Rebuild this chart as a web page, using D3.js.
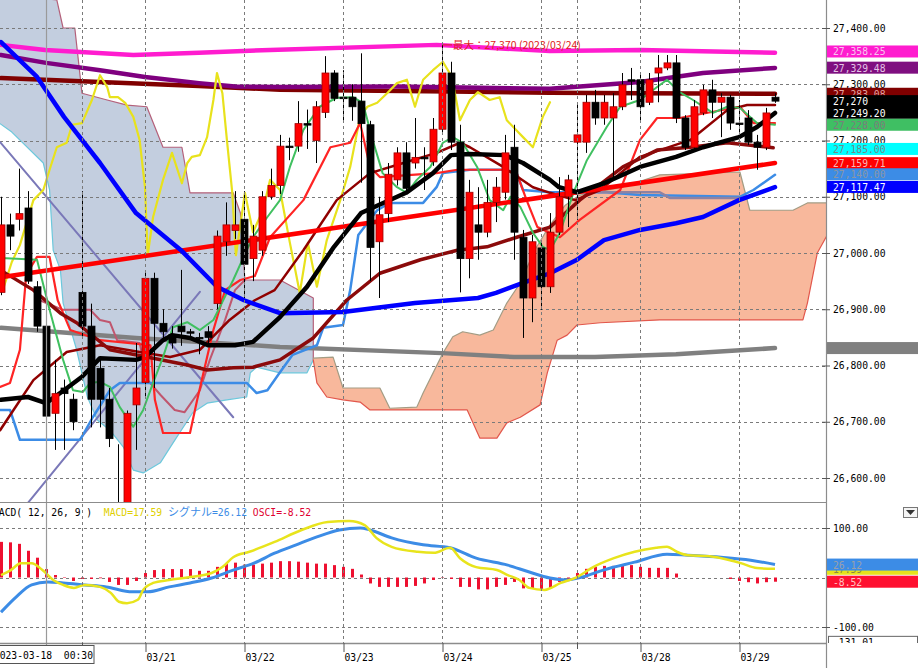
<!DOCTYPE html>
<html lang="ja">
<head>
<meta charset="utf-8">
<title>225 2h chart with MACD</title>
<script src="https://cdn.jsdelivr.net/npm/d3@7"></script>
<style>
  body { margin: 0; background: #fff; }
  svg { display: block; }
  text { white-space: pre; }
</style>
</head>
<body>
<div id="chart"></div>
<script>
// ---- candles, index 0 = first visible bar (2h bars) ----
var open  = [26930,27050,27060,27080,26940,26870,26715,26760,26740,26930,26870,26795,26740,26550,26520,26730,26770,26955,26875,26855,26870,26860,26850,26860,26910,27020,27040,27060,26990,27005,27100,27120,27190,27190,27230,27200,27250,27320,27277,27277,27270,27228,27020,27070,27130,27178,27160,27170,27162,27220,27320,27197,26990,27050,27037,27090,27108,27188,27028,26920,27009,26940,27037,27100,27197,27197,27268,27240,27240,27260,27308,27308,27268,27320,27329,27338,27240,27188,27249,27290,27268,27277,27231,27240,27197,27188,27277];
var high  = [27100,27070,27150,27110,26950,26905,26810,26775,26750,27110,26910,26810,26760,26660,26720,26840,26965,26965,26900,26870,26970,26865,26858,26870,27040,27090,27110,27110,27050,27110,27150,27210,27205,27270,27255,27270,27350,27325,27325,27300,27355,27235,27100,27160,27188,27197,27240,27188,27240,27370,27340,27228,27130,27117,27130,27135,27210,27228,27041,27032,27023,27071,27135,27139,27268,27281,27290,27281,27284,27320,27329,27320,27320,27352,27352,27352,27245,27272,27299,27308,27284,27281,27272,27254,27210,27258,27284];
var low   = [26925,27005,27040,26945,26860,26680,26650,26650,26685,26850,26690,26690,26655,26500,26500,26650,26745,26760,26845,26830,26835,26850,26820,26835,26900,26995,27025,26920,26950,26995,27095,27105,27165,27180,27185,27160,27240,27270,27235,27235,27125,26950,26920,27055,27120,27105,27150,27112,27155,27210,27183,26930,26955,26988,27028,27055,27095,26988,26849,26877,26899,26929,27032,27046,27059,27178,27228,27228,27135,27254,27272,27236,27263,27268,27325,27231,27183,27183,27245,27240,27206,27219,27210,27192,27148,27183,27267];
var close = [27050,27030,27070,26950,26870,26710,26750,26750,26700,26870,26740,26740,26670,26520,26715,26760,26955,26875,26860,26840,26860,26858,26848,26850,27030,27050,27050,26980,27030,27100,27120,27190,27188,27230,27228,27260,27320,27275,27275,27260,27230,27010,27068,27140,27178,27115,27170,27168,27220,27320,27197,26990,27108,27037,27090,27117,27178,27037,26920,27020,26940,27037,27100,27130,27210,27268,27240,27268,27260,27299,27306,27260,27308,27329,27338,27240,27188,27260,27290,27268,27277,27231,27229,27197,27188,27249,27270];

// ---- overlay lines, [bar index, price] ----
var magentaLine = [[0,27370],[3.2,27364],[4.9,27361],[14.7,27352],[22,27356],[29.9,27361],[48.4,27370],[61,27359],[71,27361],[86,27356]];
var purpleLine  = [[0,27352],[5,27338],[11,27325],[16,27313],[22,27302],[26,27296],[31,27295],[44,27296],[61,27292],[71,27304],[78,27320],[86,27329]];
var maroonLine  = [[0,27311],[11,27304],[22,27297],[31,27290],[50,27287],[61,27285],[71,27284],[86,27283]];
var grayLine    = [[0,26867],[15,26849],[31,26833],[49,26822],[57,26815],[66,26815],[75,26820],[86,26831]];
var trendRed    = [[0,26957],[86,27160]];
var blueLine    = [[0,27375],[4,27313],[7,27242],[11,27160],[15,27071],[20,27005],[24,26940],[27,26916],[31,26893],[38,26895],[46,26911],[53,26920],[55,26929],[58,26947],[61,26964],[64,26988],[67,27023],[71,27041],[75,27053],[78,27064],[82,27094],[86,27117]];
var blackLine   = [[0,26739],[3,26744],[5,26733],[7,26756],[9,26780],[11,26813],[15,26810],[16,26815],[18,26845],[19,26854],[21,26849],[23,26836],[26,26836],[28,26842],[31,26886],[34,26940],[37,27011],[40,27071],[45,27107],[48,27142],[50,27174],[52,27176],[56,27174],[58,27160],[61,27130],[62,27117],[64,27108],[67,27124],[71,27153],[75,27171],[78,27188],[82,27206],[84,27224],[86,27249]];
var greenLine   = [[0,26991],[4,26988],[5.4,26899],[6.9,26810],[8,26756],[9.1,26753],[9.9,26769],[11,26771],[12.1,26762],[13.2,26726],[14.7,26691],[15.8,26721],[16.9,26769],[18,26815],[19.1,26868],[20.7,26877],[22.1,26863],[23.6,26881],[25.8,26952],[27.3,27005],[28,27028],[29.6,27064],[31,27094],[32.1,27153],[33.6,27219],[35.4,27260],[37.3,27276],[39.1,27277],[40.2,27267],[41.3,27201],[42.4,27142],[44,27117],[45.1,27107],[46.2,27130],[47.7,27153],[49.1,27196],[50.2,27206],[51.3,27196],[52.9,27153],[54.3,27094],[55.8,27076],[56.6,27100],[57.7,27082],[59.1,27036],[60.2,27011],[61,27005],[62.1,27036],[63.6,27107],[65.1,27165],[67.3,27224],[68.8,27260],[71,27272],[72.9,27295],[74,27308],[75.4,27286],[76.9,27272],[79.1,27249],[80.7,27260],[82.1,27258],[84,27231],[86,27228]];
var redStep     = [[-0.1,26762],[1,26769],[2.1,26828],[2.8,26961],[4,26993],[5.4,26993],[6.3,26916],[7.7,26863],[11,26845],[16.6,26836],[17.1,26739],[18,26680],[21,26680],[21.8,26739],[23.6,26863],[24.9,26934],[26.6,26952],[28.2,26959],[29.9,27028],[33.6,27094],[36.6,27188],[38.8,27196],[39.9,27231],[41,27153],[42.1,27135],[48.4,27142],[50.7,27148],[55.8,27148],[57.3,27142],[58.4,27094],[59.6,27046],[62.1,27028],[64.3,27059],[68.8,27112],[71,27201],[72.9,27240],[75.4,27240],[82.1,27260],[83.6,27231],[86,27231]];
var blueStep    = [[-0.1,26721],[1,26721],[2.1,26668],[8.8,26668],[10.2,26708],[12.1,26756],[13.2,26769],[27.3,26769],[28.4,26751],[29.6,26756],[31,26788],[32.4,26819],[35.1,26836],[35.8,26867],[38,26872],[38.8,26934],[39.7,27032],[41.8,27076],[43.2,27089],[46.9,27089],[48.4,27117],[49.1,27142],[52.1,27148],[55.8,27148],[57.3,27142],[58,27112],[61,27108],[67.3,27108],[71,27103],[82.1,27100],[83.6,27112],[86,27139]];
var spanStep    = [[66.4,27108],[73.2,27108],[74.3,27098],[82.1,27098]];
var mauveStep   = [[4.3,26916],[6.9,26899],[9.9,26899],[11,26881],[12.1,26877],[12.9,26845],[15.4,26840],[16.3,26774],[17.7,26748],[19.3,26721],[20.4,26717],[22.1,26756],[23.2,26810],[24.9,26881],[26,26934],[27.1,26952]];
var darkRedA    = [[-0.1,26685],[3.6,26774],[7.3,26824],[11,26836],[15.4,26824],[18.8,26815],[22.1,26828],[25.4,26881],[28.2,26916],[30.4,26934],[33.6,27005],[37.3,27094],[41,27142],[44.7,27160],[48.4,27178],[51,27196],[52.1,27188],[55.8,27153],[59.1,27117],[61,27107],[63.8,27094],[66.6,27112],[71,27171],[76.6,27201],[80.7,27254],[82.9,27263],[86,27263]];
var darkRedB    = [[-0.1,26970],[3.6,26934],[6.6,26893],[8.4,26876],[12.1,26828],[16.2,26815],[20.7,26801],[22.9,26792],[25.8,26796],[28,26797],[31,26810],[34.7,26849],[38.4,26916],[42.1,26964],[46.6,26988],[50.7,27005],[54,27011],[57.3,27028],[61,27046],[64.3,27094],[69.1,27153],[72.9,27183],[76.6,27188],[80.7,27196],[85.8,27187]];
var laggingLine = [[0.2,26934],[1.2,26984],[2.1,27014],[3.6,27094],[4.7,27112],[5.4,27148],[6.2,27188],[7.3,27196],[7.9,27228],[9,27231],[10.1,27272],[11,27316],[11.8,27295],[12.1,27277],[13,27277],[13.8,27267],[14.7,27242],[15.4,27201],[16,27117],[16.3,26996],[16.9,27064],[18,27130],[19,27178],[20.1,27124],[20.7,27160],[21.2,27171],[22.1,27174],[22.9,27206],[23.6,27272],[24,27320],[24.6,27284],[25.1,27201],[25.7,27107],[26.1,26996],[26.6,27050],[27.1,27107],[28,27037],[29.1,27076],[29.9,27130],[31,27112],[32.1,27018],[33.2,26929],[34.1,27018],[35.1,26940],[36.2,27023],[37.7,27094],[38.8,27153],[39.9,27242],[40.7,27260],[41.8,27267],[42.9,27284],[44,27302],[45.1,27308],[46,27260],[46.9,27308],[48,27325],[49.1,27340],[50.1,27313],[51,27236],[52.1,27272],[53,27286],[54.3,27272],[55.4,27277],[56.2,27236],[58,27206],[59.1,27188],[60.2,27242],[61,27268]];
var trendDown   = [[-0.1,27197],[25.8,26708]];
var trendUp     = [[-0.1,26495],[22.1,26931]];

// ---- ichimoku clouds ----
var bearCloudTop    = [[-0.2,27460],[6.2,27450],[6.9,27400],[8.2,27400],[9,27284],[11.8,27272],[14,27263],[16.2,27260],[18,27188],[20.1,27188],[21,27107],[25.8,27107],[26.6,27071],[27.1,26952],[31,26952],[34.7,26920],[34.7,26810]];
var bearCloudBottom = [[-0.2,27231],[1.2,27215],[4.7,27160],[5.4,27112],[5.8,27005],[6.6,26970],[6.9,26911],[8.4,26828],[9.6,26744],[10.7,26703],[12.1,26685],[13.6,26655],[14.7,26614],[15.8,26609],[17.7,26627],[19.1,26662],[21.3,26716],[22.9,26733],[25.1,26739],[27.3,26744],[27.7,26787],[28.4,26797],[31,26787],[34,26787],[34.7,26810]];
var bullCloudTop    = [[34.7,26813],[36.9,26815],[38,26760],[42.1,26760],[43.2,26724],[46.2,26726],[46.9,26751],[49.1,26822],[50.2,26851],[51.3,26860],[53.2,26854],[54.7,26863],[56.2,26911],[57.7,26947],[59.3,27005],[61,27050],[62.7,27085],[64.3,27103],[68.8,27116],[73.2,27139],[82.1,27144],[83.2,27076],[88,27076],[89.6,27089],[91.8,27089]];
var bullCloudBottom = [[34.7,26810],[35.1,26769],[36.2,26744],[38,26739],[39.9,26735],[41,26721],[51.8,26721],[53.2,26671],[55.1,26671],[56.2,26698],[57.7,26708],[59.9,26730],[60.7,26787],[61.8,26845],[62.9,26854],[64,26872],[66.6,26876],[73.2,26881],[89.1,26881],[89.6,26911],[90.7,27000],[91.8,27032]];

// ---- MACD(12,26,9) ----
var macdLine   = [[0,5],[1.1,15],[2.2,29],[3.4,29],[4.6,15],[5.8,-5],[6.9,-15],[8.1,-21],[9.3,-15],[11,-19],[12.2,-31],[13.1,-49],[14,-52],[15.2,-45],[15.8,-25],[16.9,-11],[18.7,-5],[21,1],[23.4,9],[24.6,21],[25.8,41],[27.6,52],[30.4,72],[33.4,96],[36.3,112],[38.7,114],[40.4,106],[41.7,80],[43.4,62],[46.3,52],[48.1,50],[49.9,60],[51,39],[52.8,21],[55.1,15],[56.3,5],[57.6,-5],[58.7,-21],[60.4,-25],[62.2,-11],[64,1],[65.8,21],[68.1,39],[70.4,52],[72.8,60],[74,62],[75.1,52],[76.3,45],[78.7,43],[81,35],[82.2,29],[84,19],[86,17.59]];
var signalLine = [[0,-70],[1.7,-39],[3.4,-15],[5.2,-9],[6.9,-11],[9.3,-15],[11.7,-19],[14.6,-29],[16.3,-29],[18.7,-19],[21,-11],[23.4,-1],[25.8,15],[28.1,29],[30.4,49],[32.8,66],[35.1,82],[37.6,96],[39.9,100],[41,96],[43.4,80],[46.9,66],[49.9,60],[52.8,39],[56.3,25],[58.7,11],[61,-1],[62.8,-5],[64.6,1],[66.9,15],[70.4,31],[74,47],[76.3,45],[80,41],[83.3,35],[86,26.12]];
var osci = [72,71,68,54,40,17,5,-1,-7,-3,-3,-1.5,-9,-15,-15,-7,9,15,17,17,17,17,13.5,13.5,21.5,28,30,26,26,28,30,33,33,32,30,28,28,25,21.5,17.5,6,-12,-19,-19,-19,-19,-17,-12,-5,-1,-3,-19,-19,-24,-24,-19,-15,-9,-22,-22,-26,-22,-9,-5,9,17.5,21.5,23.5,23.5,26,25,21.5,19.5,19.5,19.5,8,0,0,0,0,0,-3,-7,-9.5,-12,-9.5,-8.52];

// ---- axes / labels ----
var priceTicks = [26600,26700,26800,26900,27000,27100,27200,27300,27400];
var macdTicks = [100,-100];
var dateIdx = [16,27,38,49,60,71,82];
var dateLabels = ["03/21","03/22","03/23","03/24","03/25","03/28","03/29"];
var sessionIdx = [9,64];
var cursorIdx = 5;
var cursorLabel = "2023-03-18  00:30";
var maxIdx = 49, maxPrice = 27370;
var maxLabel = "最大：27,370 (2023/03/24)";

var tagValues = [27358.25,27329.48,27283.08,27270,27249.20,27228.00,27185.00,27159.71,27140.00,27117.47,26831];
var tagLabels = ["27,358.25","27,329.48","27,283.08","27,270","27,249.20","27,228.00","27,185.00","27,159.71","27,140.00","27,117.47",""];
var tagFill   = ["#ff1ccf","#7f0f80","#800000","#000","#000","#3fbf63","#00ffff","#ff0000","#3c8ce6","#0000ff","#808080"];
var tagText   = ["#f7c4ee","#e4c4e6","#e2a4a4","#fff","#fff","#7c7c7c","#6f8a8a","#f7b8b8","#8a96a4","#fff","#808080"];
var macdTagValues = [17.59,26.12,-8.52];
var macdTagLabels = ["17.59","26.12","-8.52"];
var macdTagFill   = ["#e6e21c","#3c8ce6","#ff1030"];
var macdTagText   = ["#8a8a40","#9aa0aa","#ffc4c4"];
var macdMin = -131.01;

var w = 920, h = 668;
var plotR = 826;
var mainB = 502, macdT = 503, macdB = 643;
var mono = "'DejaVu Sans Mono', 'Liberation Mono', monospace";
var jp = "'Noto Sans CJK JP', sans-serif";

var x = d3.scaleLinear().domain([0, 86]).range([1, 775]);
var y = d3.scaleLinear().domain([26600, 27400]).range([478, 28]);
var ym = d3.scaleLinear().domain([-100, 100]).range([627, 528]);

var svg = d3.select("#chart").append("svg")
    .attr("width", w).attr("height", h)
    .style("background", "#fff");

var defs = svg.append("defs");
defs.append("clipPath").attr("id", "clipMain")
    .append("rect").attr("x", 0).attr("y", 0).attr("width", plotR).attr("height", mainB);
defs.append("clipPath").attr("id", "clipMacd")
    .append("rect").attr("x", 0).attr("y", macdT).attr("width", plotR).attr("height", macdB - macdT);
defs.append("clipPath").attr("id", "clipMacdAxis")
    .append("rect").attr("x", plotR).attr("y", macdT).attr("width", w - plotR).attr("height", macdB - macdT);

var main = svg.append("g").attr("clip-path", "url(#clipMain)");
var macd = svg.append("g").attr("clip-path", "url(#clipMacd)");

var pline = d3.line().x(function (d) { return x(d[0]); }).y(function (d) { return y(d[1]); });

function priceLine(g, pts, color, width) {
    g.append("path").datum(pts)
        .attr("d", pline)
        .attr("fill", "none")
        .attr("stroke", color)
        .attr("stroke-width", width)
        .attr("stroke-linejoin", "round")
        .attr("stroke-linecap", "round");
}

function cloud(top, bottom, fill, topStroke, bottomStroke) {
    var poly = top.concat(bottom.slice().reverse());
    main.append("path").datum(poly)
        .attr("d", function (d) { return pline(d) + "Z"; })
        .attr("fill", fill).attr("stroke", "none");
    priceLine(main, top, topStroke, 1.2);
    priceLine(main, bottom, bottomStroke, 1.2);
}

// clouds
cloud(bearCloudTop, bearCloudBottom, "#c3cedf", "#b4607a", "#6cc8dc");
cloud(bullCloudTop, bullCloudBottom, "#f8b89c", "#a39c84", "#e2574c");

// grid
main.selectAll(".hgrid").data(priceTicks).enter().append("line")
    .attr("x1", 0).attr("x2", plotR)
    .attr("y1", function (d) { return Math.round(y(d)) + 0.5; })
    .attr("y2", function (d) { return Math.round(y(d)) + 0.5; })
    .attr("stroke", "#7a7a7a").attr("stroke-dasharray", "3,3");

var vlines = sessionIdx.concat(dateIdx);
svg.selectAll(".vgrid").data(vlines).enter().append("line")
    .attr("x1", function (d) { return Math.round(x(d)) + 0.5; })
    .attr("x2", function (d) { return Math.round(x(d)) + 0.5; })
    .attr("y1", 0).attr("y2", macdB)
    .attr("stroke", "#7a7a7a").attr("stroke-dasharray", "3,3");

macd.selectAll(".mgrid").data([100, 0, -100]).enter().append("line")
    .attr("x1", 0).attr("x2", plotR)
    .attr("y1", function (d) { return Math.round(ym(d)) + 0.5; })
    .attr("y2", function (d) { return Math.round(ym(d)) + 0.5; })
    .attr("stroke", "#7a7a7a").attr("stroke-dasharray", "3,3");

// cursor line
svg.append("line")
    .attr("x1", Math.round(x(cursorIdx)) + 0.5).attr("x2", Math.round(x(cursorIdx)) + 0.5)
    .attr("y1", 0).attr("y2", macdB + 8)
    .attr("stroke", "#9a9a9a").attr("stroke-width", 1.2);

// overlay lines
priceLine(main, grayLine, "#808080", 4.5);
priceLine(main, maroonLine, "#800000", 4.5);
priceLine(main, purpleLine, "#7f007f", 4.5);
priceLine(main, magentaLine, "#ff1ccf", 4.5);
priceLine(main, trendDown, "#7a78b8", 2);
priceLine(main, trendUp, "#7a78b8", 2);
priceLine(main, laggingLine, "#e8e21c", 2.2);
priceLine(main, mauveStep, "#c0566e", 2);
priceLine(main, blueStep, "#3c8ce6", 2.5);
priceLine(main, spanStep, "#8e82a2", 2.5);
priceLine(main, redStep, "#ff2424", 2.2);
priceLine(main, darkRedA, "#900000", 2.5);
priceLine(main, darkRedB, "#8b0a0a", 3.5);
priceLine(main, greenLine, "#40c060", 2);
priceLine(main, trendRed, "#ff0000", 4.5);
priceLine(main, blueLine, "#0000ff", 4.5);
priceLine(main, blackLine, "#000000", 4.5);

// candles
var bars = d3.range(open.length);
main.selectAll(".wick").data(bars).enter().append("line")
    .attr("x1", function (i) { return Math.round(x(i)) + 0.5; })
    .attr("x2", function (i) { return Math.round(x(i)) + 0.5; })
    .attr("y1", function (i) { return y(high[i]); })
    .attr("y2", function (i) { return y(low[i]); })
    .attr("stroke", "#000").attr("stroke-width", 1);

main.selectAll(".body").data(bars).enter().append("rect")
    .attr("x", function (i) { return Math.round(x(i)) - 3; })
    .attr("width", 7)
    .attr("y", function (i) { return y(Math.max(open[i], close[i])); })
    .attr("height", function (i) { return Math.max(1.5, Math.abs(y(open[i]) - y(close[i]))); })
    .attr("fill", function (i) { return close[i] - open[i] > 3 ? "#ff0000" : "#000"; })
    .attr("stroke", function (i) { return close[i] - open[i] > 3 ? "#a00000" : "#000"; })
    .attr("stroke-width", 0.8);

// max marker
main.append("line")
    .attr("x1", x(maxIdx)).attr("x2", x(maxIdx) + 10)
    .attr("y1", y(maxPrice)).attr("y2", y(maxPrice))
    .attr("stroke", "#e02020").attr("stroke-width", 1);
main.append("text")
    .attr("x", x(maxIdx) + 11).attr("y", y(maxPrice) + 4)
    .attr("font-family", jp).attr("font-size", "10.5px")
    .attr("fill", "#e02020")
    .text(maxLabel);

// MACD panel
macd.selectAll(".osci").data(bars).enter().append("rect")
    .attr("x", function (i) { return Math.round(x(i)) - 1; })
    .attr("width", 3)
    .attr("y", function (i) { return Math.min(ym(osci[i]), ym(0)); })
    .attr("height", function (i) { return Math.abs(ym(osci[i]) - ym(0)); })
    .attr("fill", "#ee1030");

var mline = d3.line().curve(d3.curveMonotoneX)
    .x(function (d) { return x(d[0]); }).y(function (d) { return ym(d[1]); });
macd.append("path").datum(signalLine).attr("d", mline)
    .attr("fill", "none").attr("stroke", "#3c8ce6").attr("stroke-width", 3);
macd.append("path").datum(macdLine).attr("d", mline)
    .attr("fill", "none").attr("stroke", "#e8e41c").attr("stroke-width", 2.5);

var title = macd.append("text").attr("x", -7).attr("y", 516)
    .attr("font-family", mono).attr("font-size", "9.7px");
title.append("tspan").attr("fill", "#000").text("MACD( 12, 26, 9 )  ");
title.append("tspan").attr("fill", "#e0d000").text("MACD=17.59 ");
title.append("tspan").attr("fill", "#3c8ce6").attr("font-family", jp).attr("font-size", "11px").text("シグナル");
title.append("tspan").attr("fill", "#3c8ce6").text("=26.12 ");
title.append("tspan").attr("fill", "#e00030").text("OSCI=-8.52");

// frame
svg.append("line").attr("x1", 0).attr("x2", plotR).attr("y1", mainB + 0.5).attr("y2", mainB + 0.5)
    .attr("stroke", "#8c8c8c").attr("stroke-width", 1.2);
svg.append("line").attr("x1", 0).attr("x2", plotR).attr("y1", macdB + 0.5).attr("y2", macdB + 0.5)
    .attr("stroke", "#8c8c8c").attr("stroke-width", 1.5);
svg.append("line").attr("x1", plotR + 0.5).attr("x2", plotR + 0.5).attr("y1", 0).attr("y2", h)
    .attr("stroke", "#8c8c8c").attr("stroke-width", 1.2);

// price axis
var yAxis = d3.axisRight(y).tickValues(priceTicks).tickFormat(d3.format(",.2f")).tickSize(8).tickPadding(3);
var ya = svg.append("g").attr("transform", "translate(822,0)").call(yAxis);
ya.select(".domain").remove();
ya.selectAll("line").attr("stroke", "#555");
ya.selectAll("text").attr("font-family", mono).attr("font-size", "9.7px").attr("fill", "#000");

// price tags
var tags = svg.append("g");
tagValues.forEach(function (v, k) {
    var cy = y(v);
    tags.append("rect").attr("x", plotR + 1).attr("y", cy - 6).attr("width", 91).attr("height", 12)
        .attr("fill", tagFill[k]);
    tags.append("text").attr("x", 833).attr("y", cy + 4)
        .attr("font-family", mono).attr("font-size", "9.7px")
        .attr("fill", tagText[k]).text(tagLabels[k]);
});

// MACD axis
var ma = svg.append("g").attr("transform", "translate(822,0)")
    .call(d3.axisRight(ym).tickValues(macdTicks).tickFormat(function (d) { return d.toFixed(2); }).tickSize(8).tickPadding(3));
ma.select(".domain").remove();
ma.selectAll("line").attr("stroke", "#555");
ma.selectAll("text").attr("font-family", mono).attr("font-size", "9.7px").attr("fill", "#000");

var mtags = svg.append("g").attr("clip-path", "url(#clipMacdAxis)");
macdTagValues.forEach(function (v, k) {
    var cy = ym(v);
    mtags.append("rect").attr("x", plotR + 1).attr("y", cy - 6).attr("width", 91).attr("height", 12)
        .attr("fill", macdTagFill[k]);
    mtags.append("text").attr("x", 833).attr("y", cy + 4)
        .attr("font-family", mono).attr("font-size", "9.7px")
        .attr("fill", macdTagText[k]).text(macdTagLabels[k]);
});
mtags.append("rect").attr("x", plotR + 2.5).attr("y", ym(macdMin) - 6).attr("width", 89).attr("height", 12)
    .attr("fill", "#fff").attr("stroke", "#666");
mtags.append("text").attr("x", 833).attr("y", ym(macdMin) + 4)
    .attr("font-family", mono).attr("font-size", "9.7px").attr("fill", "#000").text(macdMin.toFixed(2));

// dropdown button
svg.append("rect").attr("x", 903.5).attr("y", 507.5).attr("width", 14).attr("height", 10)
    .attr("fill", "#f4f4f4").attr("stroke", "#777");
svg.append("path").attr("d", "M906,510 L915,510 L910.5,515 Z").attr("fill", "#333");

// time axis
var xa = svg.append("g").attr("transform", "translate(0," + macdB + ")")
    .call(d3.axisBottom(x).tickValues(dateIdx).tickFormat(function (d, i) { return dateLabels[i]; }).tickSize(9).tickPadding(2));
xa.select(".domain").remove();
xa.selectAll("line").attr("stroke", "#555").attr("transform", "translate(0.5,0)");
xa.selectAll("text").attr("font-family", mono).attr("font-size", "9.7px").attr("fill", "#000")
    .attr("text-anchor", "start").attr("dx", "1");

svg.selectAll(".stick").data(sessionIdx).enter().append("line")
    .attr("x1", function (d) { return Math.round(x(d)) + 0.5; })
    .attr("x2", function (d) { return Math.round(x(d)) + 0.5; })
    .attr("y1", macdB).attr("y2", macdB + 6)
    .attr("stroke", "#555");

// cursor time label
svg.append("rect").attr("x", -10).attr("y", 645.5).attr("width", 104).attr("height", 18)
    .attr("fill", "#fff").attr("stroke", "#555");
svg.append("text").attr("x", 93).attr("y", 659)
    .attr("text-anchor", "end")
    .attr("font-family", mono).attr("font-size", "9.7px").attr("fill", "#000")
    .text(cursorLabel);
</script>
</body>
</html>
